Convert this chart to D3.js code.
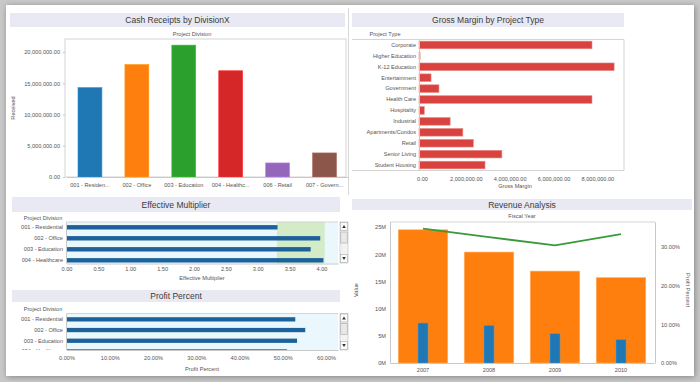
<!DOCTYPE html>
<html><head><meta charset="utf-8">
<script src="https://cdn.jsdelivr.net/npm/d3@7"></script>
<style>body{margin:0;background:#c4c4c4}svg{display:block;font-family:"Liberation Sans",Arial,sans-serif}</style>
</head><body><svg id="c" width="700" height="382"></svg>
<script>
// ---- data ----
const divisions = ["001 - Residen...", "002 - Office", "003 - Education", "004 - Healthc...", "006 - Retail", "007 - Govern..."];
const received = [14300000, 18000000, 21100000, 17000000, 2250000, 3850000];
const divisionColors = ["#1f77b4", "#ff7f0e", "#2ca02c", "#d62728", "#9467bd", "#8c564b"];
const cashTicks = [0, 5000000, 10000000, 15000000, 20000000];

const projectTypes = ["Corporate", "Higher Education", "K-12 Education", "Entertainment", "Government", "Health Care", "Hospitality", "Industrial", "Apartments/Condos", "Retail", "Senior Living", "Student Housing"];
const grossMargin = [7890000, 50000, 8900000, 550000, 910000, 7890000, 240000, 1420000, 2000000, 2480000, 3780000, 3010000];
const gmTicks = [0, 2000000, 4000000, 6000000, 8000000];

const multDivisions = ["001 - Residential", "002 - Office", "003 - Education", "004 - Healthcare"];
const effMultiplier = [3.31, 3.98, 3.83, 4.03];
const multBand = [3.3, 4.05];
const multTicks = [0, 0.5, 1, 1.5, 2, 2.5, 3, 3.5, 4];

const profitPct = [0.529, 0.552, 0.533, 0.51];
const profitTicks = [0, 0.1, 0.2, 0.3, 0.4, 0.5, 0.6];

const years = ["2007", "2008", "2009", "2010"];
const revenue = [24500000, 20400000, 16900000, 15700000];
const grossProfit = [7350000, 6900000, 5400000, 4300000];
const revProfitPct = [0.347, 0.325, 0.304, 0.333];
const valueTicks = [0, 5000000, 10000000, 15000000, 20000000, 25000000];
const pctTicks = [0, 0.1, 0.2, 0.3];

// ---- drawing ----
const svg = d3.select("#c");
const defs = svg.append("defs");
const f = defs.append("filter").attr("id", "sh").attr("x", "-5%").attr("y", "-5%").attr("width", "110%").attr("height", "110%");
f.append("feGaussianBlur").attr("in", "SourceAlpha").attr("stdDeviation", 3);
f.append("feOffset").attr("dx", 1).attr("dy", 1).attr("result", "b");
f.append("feFlood").attr("flood-color", "#555").attr("flood-opacity", 0.6);
f.append("feComposite").attr("in2", "b").attr("operator", "in");
const fm = f.append("feMerge"); fm.append("feMergeNode"); fm.append("feMergeNode").attr("in", "SourceGraphic");

svg.append("rect").attr("width", 700).attr("height", 382).attr("fill", "#c9c9c9");
svg.append("rect").attr("x", 6).attr("y", 5).attr("width", 688).attr("height", 371).attr("fill", "#fff").attr("filter", "url(#sh)");
svg.append("line").attr("x1", 348.5).attr("x2", 348.5).attr("y1", 8).attr("y2", 195).attr("stroke", "#d8d8d8");

const small = 5.6;
function titleBar(x0, x1, y0, y1, t) {
  svg.append("rect").attr("x", x0).attr("y", y0).attr("width", x1 - x0).attr("height", y1 - y0).attr("fill", "#e9e9f3");
  svg.append("text").attr("x", (x0 + x1) / 2).attr("y", (y0 + y1) / 2 + 3).attr("text-anchor", "middle")
    .attr("font-size", 8.5).attr("fill", "#3a3a3a").text(t);
}
function label(x, y, t, anchor, size, rot) {
  const el = svg.append("text").attr("font-size", size || small).attr("fill", "#555")
    .attr("text-anchor", anchor || "middle").text(t);
  if (rot) el.attr("transform", `translate(${x},${y}) rotate(${rot})`);
  else el.attr("x", x).attr("y", y);
  return el;
}
function styleAxis(g) {
  g.selectAll("text").attr("font-size", small).attr("fill", "#555").attr("font-family", "Liberation Sans, Arial, sans-serif");
  g.select(".domain").attr("stroke", "#c8c8c8");
  g.selectAll(".tick line").attr("stroke", "#c8c8c8");
}
function scrollbar(x, y0, y1) {
  svg.append("rect").attr("x", x).attr("y", y0).attr("width", 8).attr("height", y1 - y0).attr("fill", "#f2f2f2").attr("stroke", "#bbb").attr("stroke-width", 0.6);
  svg.append("rect").attr("x", x + 0.5).attr("y", y0 + 0.5).attr("width", 7).attr("height", 8).attr("fill", "#fafafa").attr("stroke", "#999").attr("stroke-width", 0.5);
  svg.append("rect").attr("x", x + 0.5).attr("y", y1 - 8.5).attr("width", 7).attr("height", 8).attr("fill", "#fafafa").attr("stroke", "#999").attr("stroke-width", 0.5);
  svg.append("rect").attr("x", x + 0.8).attr("y", y0 + 10).attr("width", 6.4).attr("height", 11).attr("fill", "#e8e8e8").attr("stroke", "#999").attr("stroke-width", 0.5);
  svg.append("path").attr("d", `M${x + 2.2},${y0 + 6} L${x + 4},${y0 + 3} L${x + 5.8},${y0 + 6}Z`).attr("fill", "#333");
  svg.append("path").attr("d", `M${x + 2.2},${y1 - 6} L${x + 4},${y1 - 3} L${x + 5.8},${y1 - 6}Z`).attr("fill", "#333");
}

// Panel 1: Cash Receipts
titleBar(10, 345, 13, 27, "Cash Receipts by DivisionX");
label(192, 36, "Project Division");
{
  const x = d3.scaleBand().domain(divisions).range([66.5, 348]).paddingInner(0.49).paddingOuter(0.245);
  const y = d3.scaleLinear().domain([0, 22000000]).range([177, 39.5]);
  svg.append("rect").attr("x", 65).attr("y", 39).attr("width", 281).attr("height", 138).attr("fill", "none").attr("stroke", "#d4d4d4");
  svg.selectAll(".cb").data(received).join("rect")
    .attr("x", (d, i) => x(divisions[i])).attr("width", x.bandwidth())
    .attr("y", d => y(d)).attr("height", d => y(0) - y(d))
    .attr("fill", (d, i) => divisionColors[i]).attr("stroke", (d, i) => d3.color(divisionColors[i]).brighter(0.6)).attr("stroke-width", 0.6);
  const ya = svg.append("g").attr("transform", "translate(65,0)").call(d3.axisLeft(y).tickValues(cashTicks).tickFormat(d3.format(",.2f")).tickSize(2).tickPadding(3));
  styleAxis(ya); ya.select(".domain").remove();
  const xa = svg.append("g").attr("transform", "translate(0,177)").call(d3.axisBottom(x).tickSize(0).tickPadding(6));
  styleAxis(xa);
  label(15, 108, "Received", "middle", small, -90);
}

// Panel 2: Gross Margin
titleBar(352, 624, 13, 27, "Gross Margin by Project Type");
label(385, 36, "Project Type");
{
  const y = d3.scaleBand().domain(projectTypes).range([39.5, 170.5]).paddingInner(0.3).paddingOuter(0.15);
  const x = d3.scaleLinear().domain([0, 9350000]).range([419, 624]);
  svg.append("line").attr("x1", 352).attr("x2", 624).attr("y1", 39.5).attr("y2", 39.5).attr("stroke", "#d4d4d4");
  svg.append("line").attr("x1", 352).attr("x2", 624).attr("y1", 170.5).attr("y2", 170.5).attr("stroke", "#d4d4d4");
  svg.append("line").attr("x1", 624).attr("x2", 624).attr("y1", 39.5).attr("y2", 170.5).attr("stroke", "#d4d4d4");
  svg.selectAll(".gb").data(grossMargin).join("rect")
    .attr("y", (d, i) => y(projectTypes[i])).attr("height", y.bandwidth())
    .attr("x", x(0)).attr("width", d => x(d) - x(0))
    .attr("fill", "#d8433f").attr("stroke", "#e88a86").attr("stroke-width", 0.6);
  const ya = svg.append("g").attr("transform", "translate(419,0)").call(d3.axisLeft(y).tickSize(0).tickPadding(3));
  styleAxis(ya);
  const xa = svg.append("g").attr("transform", "translate(3,171)").call(d3.axisBottom(x).tickValues(gmTicks).tickFormat(d3.format(",.2f")).tickSize(0).tickPadding(6));
  styleAxis(xa); xa.select(".domain").remove();
  label(515, 188, "Gross Margin");
}

// Panel 3: Effective Multiplier
titleBar(12, 340, 197, 212, "Effective Multiplier");
label(43, 220, "Project Division");
{
  const x = d3.scaleLinear().domain([0, (338 - 66.5) / 63.75]).range([66.5, 338]);
  const y = d3.scaleBand().domain(multDivisions).range([221.8, 265.8]).paddingInner(0.6).paddingOuter(0.3);
  defs.append("clipPath").attr("id", "cp3").append("rect").attr("x", 0).attr("y", 222).attr("width", 340).attr("height", 41.5);
  const g = svg.append("g").attr("clip-path", "url(#cp3)");
  g.append("rect").attr("x", 66).attr("y", 222).attr("width", 272).attr("height", 42).attr("fill", "#eaf7fc");
  g.append("rect").attr("x", x(multBand[0])).attr("y", 222).attr("width", x(multBand[1]) - x(multBand[0])).attr("height", 42).attr("fill", "#d3ebc6");
  g.selectAll(".mb").data(effMultiplier).join("rect")
    .attr("y", (d, i) => y(multDivisions[i])).attr("height", y.bandwidth())
    .attr("x", x(0)).attr("width", d => x(d) - x(0)).attr("fill", "#1c6199");
  const ya = g.append("g").attr("transform", "translate(66,0)").call(d3.axisLeft(y).tickSize(0).tickPadding(3));
  styleAxis(ya);
  svg.append("line").attr("x1", 66).attr("x2", 338).attr("y1", 222).attr("y2", 222).attr("stroke", "#d4d4d4");
  const xa = svg.append("g").attr("transform", "translate(0,263.5)").call(d3.axisBottom(x).tickValues(multTicks).tickFormat(d3.format(".2f")).tickSize(0).tickPadding(4));
  styleAxis(xa);
  label(202, 280, "Effective Multiplier");
  scrollbar(340, 222, 263);
}

// Panel 4: Profit Percent
titleBar(12, 340, 290, 302, "Profit Percent");
label(43, 311, "Project Division");
{
  const x = d3.scaleLinear().domain([0, (338 - 66.5) / 432.5]).range([66.5, 338]);
  const y = d3.scaleBand().domain(multDivisions).range([314, 356.8]).paddingInner(0.6).paddingOuter(0.3);
  defs.append("clipPath").attr("id", "cp4").append("rect").attr("x", 0).attr("y", 313.5).attr("width", 340).attr("height", 36.5);
  const g = svg.append("g").attr("clip-path", "url(#cp4)");
  g.append("rect").attr("x", 66).attr("y", 313.5).attr("width", 272).attr("height", 37).attr("fill", "#eaf7fc");
  g.selectAll(".pb").data(profitPct).join("rect")
    .attr("y", (d, i) => y(multDivisions[i])).attr("height", y.bandwidth())
    .attr("x", x(0)).attr("width", d => x(d) - x(0)).attr("fill", "#1c6199");
  const ya = g.append("g").attr("transform", "translate(66,0)").call(d3.axisLeft(y).tickSize(0).tickPadding(3));
  styleAxis(ya);
  svg.append("line").attr("x1", 66).attr("x2", 338).attr("y1", 313.5).attr("y2", 313.5).attr("stroke", "#d4d4d4");
  const xa = svg.append("g").attr("transform", "translate(0,350)").call(d3.axisBottom(x).tickValues(profitTicks).tickFormat(d3.format(".2%")).tickSize(0).tickPadding(6));
  styleAxis(xa);
  label(202, 371, "Profit Percent");
  scrollbar(340, 313.5, 350);
}

// Panel 5: Revenue Analysis
titleBar(352, 692, 199, 210, "Revenue Analysis");
label(522, 218, "Fiscal Year");
{
  const x = d3.scaleBand().domain(years).range([390, 654]).paddingInner(0.25).paddingOuter(0.125);
  const yL = d3.scaleLinear().domain([0, 26000000]).range([363, 221.6]);
  const yR = d3.scaleLinear().domain([0, 0.365]).range([363, 221.7]);
  svg.append("line").attr("x1", 390).attr("x2", 655).attr("y1", 222).attr("y2", 222).attr("stroke", "#d4d4d4");
  svg.selectAll(".rv").data(revenue).join("rect")
    .attr("x", (d, i) => x(years[i])).attr("width", x.bandwidth())
    .attr("y", d => yL(d)).attr("height", d => yL(0) - yL(d)).attr("fill", "#ff7f0e").attr("stroke", "#ffb36b").attr("stroke-width", 0.6);
  svg.selectAll(".gp").data(grossProfit).join("rect")
    .attr("x", (d, i) => x(years[i]) + x.bandwidth() / 2 - 5).attr("width", 10)
    .attr("y", d => yL(d)).attr("height", d => yL(0) - yL(d)).attr("fill", "#1f77b4").attr("stroke", "#5a9bd0").attr("stroke-width", 0.5);
  svg.append("path").datum(revProfitPct)
    .attr("d", d3.line().x((d, i) => x(years[i]) + x.bandwidth() / 2).y(d => yR(d)))
    .attr("fill", "none").attr("stroke", "#3a9a3a").attr("stroke-width", 1.8);
  const ya = svg.append("g").attr("transform", "translate(390,0)").call(d3.axisLeft(yL).tickValues(valueTicks).tickFormat(d => (d / 1e6) + "M").tickSize(0).tickPadding(4));
  styleAxis(ya);
  const yb = svg.append("g").attr("transform", "translate(655,0)").call(d3.axisRight(yR).tickValues(pctTicks).tickFormat(d3.format(".2%")).tickSize(0).tickPadding(6));
  styleAxis(yb);
  const xa = svg.append("g").attr("transform", "translate(0,363)").call(d3.axisBottom(x).tickSize(0).tickPadding(5));
  styleAxis(xa);
  label(358, 290, "Value", "middle", small, -90);
  label(686, 290, "Profit Percent", "middle", small, 90);
}
</script></body></html>
